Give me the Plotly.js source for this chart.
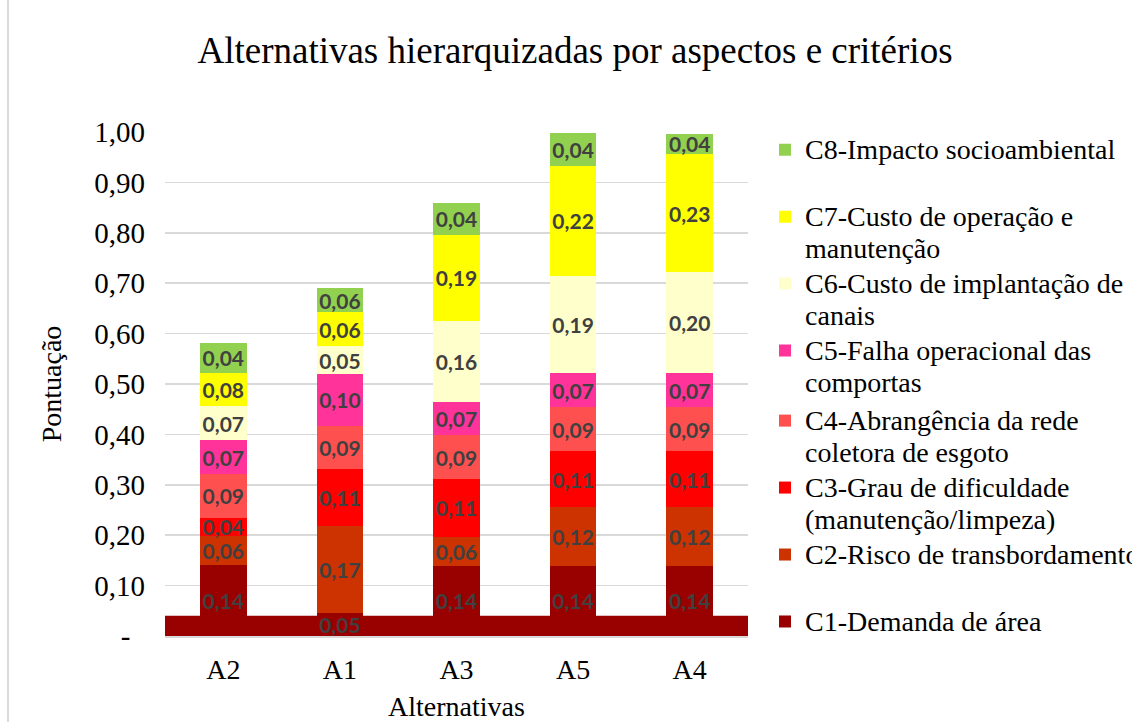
<!DOCTYPE html>
<html><head><meta charset="utf-8">
<script src="https://cdn.plot.ly/plotly-3.0.1.min.js"></script>
<style>html,body{margin:0;padding:0;background:#fff}#chart{width:1132px;height:722px}</style>
</head><body><div id="chart"></div>
<script>
// ---- data ----
const alternativas = ['A2', 'A1', 'A3', 'A5', 'A4'];
const criterios = [
  'C1-Demanda de área',
  'C2-Risco de transbordamento',
  'C3-Grau de dificuldade<br>(manutenção/limpeza)',
  'C4-Abrangência da rede<br>coletora de esgoto',
  'C5-Falha operacional das<br>comportas',
  'C6-Custo de implantação de<br>canais',
  'C7-Custo de operação e<br>manutenção',
  'C8-Impacto socioambiental'
];
// drawn segment heights
const c1 = [0.141, 0.046, 0.139, 0.139, 0.139];
const c2 = [0.057, 0.172, 0.058, 0.116, 0.116];
const c3 = [0.037, 0.113, 0.114, 0.112, 0.112];
const c4 = [0.086, 0.086, 0.088, 0.087, 0.087];
const c5 = [0.068, 0.103, 0.066, 0.068, 0.068];
const c6 = [0.067, 0.055, 0.160, 0.193, 0.200];
const c7 = [0.066, 0.067, 0.171, 0.218, 0.234];
const c8 = [0.060, 0.048, 0.063, 0.066, 0.041];
// printed data labels
const r1 = [0.14, 0.05, 0.14, 0.14, 0.14];
const r2 = [0.06, 0.17, 0.06, 0.12, 0.12];
const r3 = [0.04, 0.11, 0.11, 0.11, 0.11];
const r4 = [0.09, 0.09, 0.09, 0.09, 0.09];
const r5 = [0.07, 0.10, 0.07, 0.07, 0.07];
const r6 = [0.07, 0.05, 0.16, 0.19, 0.20];
const r7 = [0.08, 0.06, 0.19, 0.22, 0.23];
const r8 = [0.04, 0.06, 0.04, 0.04, 0.04];
// dark-red C1 band drawn across the base of the plot
const faixaC1 = 0.040;
const yTickVals = [0, 0.1, 0.2, 0.3, 0.4, 0.5, 0.6, 0.7, 0.8, 0.9, 1.0];
const yTickText = ['-\u00a0\u00a0', '0,10', '0,20', '0,30', '0,40', '0,50', '0,60', '0,70', '0,80', '0,90', '1,00'];

// ---- styling ----
const cores = ['#990000', '#CC3300', '#FF0000', '#FF5050', '#FF3399', '#FFFFCC', '#FFFF00', '#92D050'];
const valores = [c1, c2, c3, c4, c5, c6, c7, c8];
const rotulos = [r1, r2, r3, r4, r5, r6, r7, r8];
const serif = 'Liberation Serif';
const fmt = v => v.toFixed(2).replace('.', ',');

const traces = valores.map((vals, i) => {
  let nm = criterios[i];
  if (nm.indexOf('<br>') < 0) nm += '<br>\u00a0';
  return {
    type: 'bar',
    x: alternativas,
    y: vals,
    name: '<span style="font-size:28px">' + nm + '</span>',
    legend: i >= 4 ? 'legend' : 'legend2',
    marker: {color: cores[i], line: {width: 0}},
    text: rotulos[i].map(fmt),
    textposition: 'inside',
    insidetextanchor: 'middle',
    textangle: 0,
    constraintext: 'none',
    textfont: {family: 'Lato, sans-serif', size: 21, color: '#404040', weight: 'bold'},
    hoverinfo: 'skip'
  };
});

const legBase = {
  x: 1.0292, xanchor: 'left', yanchor: 'top',
  traceorder: 'reversed', valign: 'top',
  bgcolor: 'rgba(0,0,0,0)', borderwidth: 0,
  font: {family: serif, size: 24.6, color: '#000'}
};

const layout = {
  width: 1132, height: 722,
  paper_bgcolor: '#fff', plot_bgcolor: '#fff',
  margin: {l: 165, r: 384, t: 132, b: 86, autoexpand: false},
  barmode: 'stack', bargap: 0.6,
  separators: ',.',
  showlegend: true,
  title: {
    text: 'Alternativas hierarquizadas por aspectos e critérios',
    font: {family: serif, size: 37, color: '#000'},
    xref: 'container', x: 575 / 1132, xanchor: 'center',
    yref: 'container', y: 1 - 50 / 722, yanchor: 'middle'
  },
  xaxis: {
    type: 'category', categoryorder: 'array', categoryarray: alternativas,
    tickfont: {family: serif, size: 28, color: '#000'},
    ticks: '', showgrid: false,
    showline: true, linecolor: '#d9d9d9', linewidth: 1.5,
    ticklabelstandoff: 8,
    title: {text: 'Alternativas', font: {family: serif, size: 28, color: '#000'}, standoff: 17},
    fixedrange: true
  },
  yaxis: {
    range: [0, 1],
    tickmode: 'array', tickvals: yTickVals, ticktext: yTickText,
    tickfont: {family: serif, size: 29, color: '#000'},
    ticks: '', showline: false, zeroline: false,
    gridcolor: '#d9d9d9', gridwidth: 1.5,
    ticklabelstandoff: 19,
    title: {text: 'Pontuação', font: {family: serif, size: 28, color: '#000'}, standoff: 24},
    fixedrange: true
  },
  legend: Object.assign({}, legBase, {y: 1.0095}),
  legend2: Object.assign({}, legBase, {y: 0.472}),
  shapes: [
    {type: 'rect', layer: 'between', xref: 'paper', x0: 0, x1: 1, yref: 'y', y0: 0, y1: faixaC1,
     fillcolor: '#990000', line: {width: 0}},
    {type: 'line', xref: 'paper', yref: 'paper', x0: -0.2693, x1: -0.2693, y0: -0.2, y1: 1.3,
     line: {color: '#d9d9d9', width: 2}}
  ]
};

Plotly.newPlot('chart', traces, layout, {staticPlot: true, displayModeBar: false});
</script>
</body></html>
